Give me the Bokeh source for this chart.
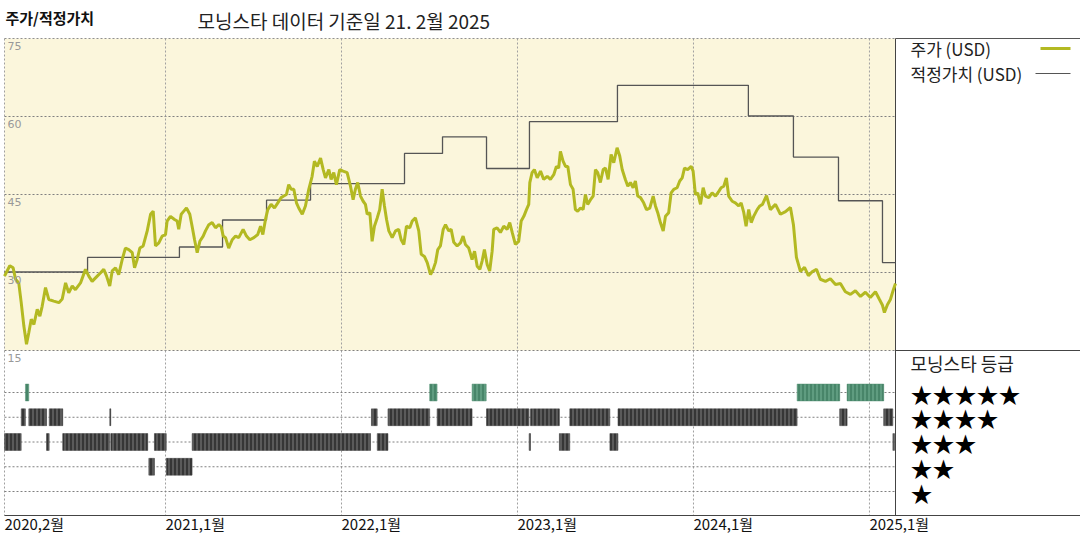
from bokeh.plotting import figure
from bokeh.models import Range1d
from bokeh.embed import file_html
from bokeh.resources import INLINE
from bokeh.core.properties import value

# ---------------- data (time as decimal year) ----------------
price_t = [2020.085, 2020.115, 2020.134, 2020.148, 2020.166, 2020.180, 2020.195, 2020.210, 2020.223, 2020.237,
           2020.252, 2020.271, 2020.286, 2020.299, 2020.318, 2020.337, 2020.365, 2020.394, 2020.413, 2020.432,
           2020.450, 2020.470, 2020.488, 2020.517, 2020.545, 2020.564, 2020.583, 2020.612, 2020.630, 2020.649,
           2020.665, 2020.683, 2020.697, 2020.716, 2020.734, 2020.754, 2020.772, 2020.791, 2020.811, 2020.824,
           2020.839, 2020.854, 2020.873, 2020.896, 2020.915, 2020.930, 2020.943, 2020.962, 2020.981, 2021.000,
           2021.009, 2021.028, 2021.051, 2021.066, 2021.075, 2021.089, 2021.104, 2021.119, 2021.138, 2021.151,
           2021.165, 2021.180, 2021.195, 2021.214, 2021.227, 2021.246, 2021.265, 2021.284, 2021.303, 2021.316,
           2021.328, 2021.341, 2021.359, 2021.379, 2021.398, 2021.416, 2021.441, 2021.460, 2021.479, 2021.502,
           2021.524, 2021.540, 2021.553, 2021.568, 2021.581, 2021.600, 2021.619, 2021.638, 2021.657, 2021.672,
           2021.687, 2021.700, 2021.714, 2021.729, 2021.744, 2021.757, 2021.777, 2021.795, 2021.814, 2021.833,
           2021.846, 2021.862, 2021.881, 2021.896, 2021.909, 2021.928, 2021.941, 2021.956, 2021.971, 2021.990,
           2022.009, 2022.032, 2022.051, 2022.066, 2022.079, 2022.092, 2022.108, 2022.123, 2022.136, 2022.146,
           2022.161, 2022.174, 2022.187, 2022.203, 2022.217, 2022.231, 2022.244, 2022.256, 2022.269, 2022.288,
           2022.307, 2022.325, 2022.339, 2022.354, 2022.369, 2022.388, 2022.402, 2022.420, 2022.439, 2022.453,
           2022.471, 2022.487, 2022.506, 2022.521, 2022.534, 2022.547, 2022.562, 2022.578, 2022.591, 2022.609,
           2022.623, 2022.638, 2022.657, 2022.676, 2022.691, 2022.704, 2022.723, 2022.742, 2022.756, 2022.771,
           2022.786, 2022.799, 2022.812, 2022.828, 2022.842, 2022.856, 2022.865, 2022.884, 2022.903, 2022.922,
           2022.941, 2022.956, 2022.970, 2022.988, 2023.007, 2023.021, 2023.036, 2023.051, 2023.064, 2023.070,
           2023.083, 2023.096, 2023.112, 2023.131, 2023.149, 2023.169, 2023.187, 2023.206, 2023.221, 2023.234,
           2023.244, 2023.259, 2023.273, 2023.286, 2023.301, 2023.316, 2023.329, 2023.342, 2023.358, 2023.373,
           2023.386, 2023.399, 2023.415, 2023.430, 2023.443, 2023.456, 2023.471, 2023.487, 2023.500, 2023.515,
           2023.532, 2023.547, 2023.566, 2023.581, 2023.595, 2023.613, 2023.627, 2023.642, 2023.657, 2023.670,
           2023.683, 2023.699, 2023.717, 2023.733, 2023.752, 2023.771, 2023.784, 2023.797, 2023.812, 2023.828,
           2023.841, 2023.859, 2023.873, 2023.888, 2023.907, 2023.922, 2023.936, 2023.949, 2023.967, 2023.987,
           2023.998, 2024.011, 2024.024, 2024.040, 2024.055, 2024.068, 2024.087, 2024.106, 2024.125, 2024.144,
           2024.157, 2024.172, 2024.187, 2024.200, 2024.220, 2024.238, 2024.257, 2024.271, 2024.286, 2024.299,
           2024.314, 2024.328, 2024.342, 2024.362, 2024.377, 2024.392, 2024.415, 2024.437, 2024.466, 2024.494,
           2024.523, 2024.551, 2024.568, 2024.585, 2024.608, 2024.631, 2024.653, 2024.676, 2024.699, 2024.721,
           2024.750, 2024.778, 2024.807, 2024.835, 2024.863, 2024.892, 2024.920, 2024.949, 2024.977, 2025.005,
           2025.034, 2025.057, 2025.074, 2025.085, 2025.102, 2025.119, 2025.136, 2025.148]
price_v = [29.3, 31.3, 30.9, 28.7, 28.0, 24.2, 19.7, 16.2, 18.4, 21.0,
           20.0, 22.9, 21.6, 23.5, 27.1, 24.8, 24.5, 24.2, 24.9, 28.0,
           26.1, 27.4, 26.7, 28.0, 30.6, 29.3, 28.3, 29.3, 29.9, 30.6,
           29.3, 27.4, 30.3, 30.9, 29.6, 32.5, 34.7, 34.4, 33.8, 30.9,
           32.5, 34.7, 35.1, 38.0, 41.2, 41.8, 35.1, 35.7, 37.0, 37.3,
           39.9, 40.8, 40.2, 39.9, 38.3, 41.2, 41.8, 42.4, 41.2, 38.9,
           36.3, 33.8, 36.0, 37.0, 38.0, 39.2, 39.6, 38.6, 39.2, 38.8,
           37.0, 36.7, 34.7, 36.3, 37.0, 36.7, 38.3, 37.0, 36.3, 36.7,
           37.3, 38.9, 37.3, 40.2, 42.1, 43.1, 42.4, 43.4, 44.4, 44.7,
           45.0, 46.9, 46.0, 46.0, 43.4, 42.4, 41.2, 42.8, 46.0, 48.5,
           51.4, 50.4, 52.0, 49.8, 48.2, 49.8, 47.9, 49.2, 46.9, 49.8,
           49.5, 49.2, 46.6, 44.0, 46.0, 47.3, 44.7, 43.7, 43.1, 41.2,
           41.5, 36.0, 38.9, 40.5, 42.1, 46.0, 42.8, 40.2, 38.0, 36.7,
           38.0, 38.3, 36.3, 35.4, 38.9, 38.6, 39.9, 40.5, 38.0, 33.5,
           33.1, 31.9, 29.6, 30.6, 31.9, 34.4, 35.1, 38.3, 39.2, 38.0,
           38.3, 35.8, 35.1, 35.7, 37.0, 35.4, 34.7, 32.5, 34.1, 31.2,
           30.6, 32.2, 34.4, 31.5, 30.3, 34.1, 38.3, 38.6, 37.7, 38.9,
           38.3, 39.6, 37.7, 35.4, 36.0, 39.9, 40.8, 42.1, 43.1, 47.3,
           49.2, 49.8, 48.2, 49.5, 47.9, 48.5, 47.9, 48.8, 50.4, 50.1,
           53.3, 51.4, 50.4, 50.4, 46.9, 46.0, 42.1, 41.8, 42.4, 42.1,
           45.0, 43.1, 44.0, 44.7, 49.8, 49.2, 47.3, 49.8, 50.1, 47.9,
           52.7, 51.1, 54.0, 52.4, 49.8, 47.9, 46.6, 47.3, 46.3, 47.6,
           44.7, 44.4, 43.4, 42.1, 42.4, 44.7, 42.8, 41.5, 39.6, 38.0,
           40.8, 41.5, 45.3, 46.0, 46.3, 47.6, 48.2, 50.1, 49.8, 50.4,
           49.5, 45.0, 45.3, 43.1, 46.3, 44.7, 44.4, 45.3, 44.7, 45.6,
           46.3, 46.6, 48.2, 44.7, 43.7, 43.4, 42.8, 43.4, 41.5, 38.9,
           42.1, 39.6, 40.8, 42.1, 42.8, 43.1, 44.8, 42.1, 43.1, 41.2,
           41.7, 42.5, 39.2, 32.9, 30.2, 31.0, 29.4, 30.2, 30.6, 28.7,
           28.3, 28.8, 27.7, 27.9, 26.3, 25.8, 26.5, 25.4, 26.2, 25.2,
           26.3, 24.8, 23.7, 22.3, 23.8, 24.8, 26.7, 27.9]

fair_t = [2020.085, 2020.557, 2021.079, 2021.324, 2021.574, 2021.824, 2022.358, 2022.574,
          2022.824, 2023.068, 2023.568, 2024.312, 2024.568, 2024.824, 2025.074, 2025.148]
fair_v = [30.1, 32.9, 34.9, 40.1, 43.9, 47.1, 52.9, 56.1,
          50.0, 59.0, 66.0, 60.1, 52.2, 43.8, 31.9, 31.9]

rating_start = [2020.085, 2020.180, 2020.204, 2020.223, 2020.324, 2020.339, 2020.416, 2020.683, 2020.689,
                2020.905, 2020.937, 2021.005, 2021.151, 2022.170, 2022.203, 2022.264, 2022.501, 2022.543,
                2022.742, 2022.824, 2023.066, 2023.074, 2023.238, 2023.297, 2023.525, 2023.571, 2024.589,
                2024.831, 2024.873, 2025.081, 2025.133]
rating_end = [2020.180, 2020.204, 2020.223, 2020.324, 2020.339, 2020.416, 2020.683, 2020.689, 2020.899,
              2020.937, 2021.004, 2021.151, 2022.165, 2022.203, 2022.264, 2022.501, 2022.543, 2022.742,
              2022.822, 2023.066, 2023.074, 2023.238, 2023.297, 2023.525, 2023.571, 2024.589, 2024.831,
              2024.873, 2025.081, 2025.133, 2025.142]
rating_value = [3, 4, 5, 4, 3, 4, 3, 4, 3,
                2, 3, 2, 3, 4, 3, 4, 5, 4,
                5, 4, 3, 4, 3, 4, 3, 4, 5,
                4, 5, 4, 3]

y_ticks = [75, 60, 45, 30, 15]
year_grid = [2021, 2022, 2023, 2024, 2025]
x_tick_pos = [2020.085, 2021, 2022, 2023, 2024, 2025]
x_tick_labels = ["2020,2월", "2021,1월", "2022,1월", "2023,1월", "2024,1월", "2025,1월"]
star_levels = [5, 4, 3, 2, 1]

T0, T1 = 2020.085, 2025.148   # visible time span of the chart

# ---------------- layout geometry ----------------
W, H = 1080, 540
PX_L, PX_R = 4, 895
PX_TOP, PX_BOT = 38, 350
PX_R5, PX_R1 = 392, 491
PX_BOTTOM_LINE = 515

xs = (T1 - T0) / (PX_R - PX_L)
x_range = Range1d(T0 - PX_L * xs, T0 + (W - PX_L) * xs)
ys = (75 - 15) / (PX_BOT - PX_TOP)
y_range = Range1d(15 - (H - PX_BOT) * ys, 75 + PX_TOP * ys)
rs = 4 / (PX_R1 - PX_R5)
r_range = Range1d(1 - (H - PX_R1) * rs, 5 + PX_R5 * rs)


def px_x(px):
    return x_range.start + px * xs


def px_y(py):
    return y_range.end - py * ys


FONT = value("Noto Sans CJK KR")
OLIVE = "#b3b922"

p = figure(width=W, height=H, x_range=x_range, y_range=y_range, min_border=0,
           toolbar_location=None, output_backend="svg", x_axis_location=None,
           y_axis_location=None, outline_line_color=None,
           background_fill_color="white", border_fill_color="white")
p.extra_y_ranges = {"rating": r_range}
p.grid.visible = False

# top panel background
p.quad(left=[T0], right=[T1], bottom=[15], top=[75], fill_color="#fbf6dc", line_color=None)

# horizontal grid (price panel)
p.segment(x0=[T0] * 4, x1=[T1] * 4, y0=y_ticks[1:], y1=y_ticks[1:],
          line_color="#808080", line_dash="2 2", line_width=1)
# top border: dotted over chart, solid over legend
p.segment(x0=[T0], x1=[T1], y0=[75], y1=[75], line_color="#909090", line_dash="2 2")
p.segment(x0=[T1], x1=[px_x(W)], y0=[75], y1=[75], line_color="#555555", line_width=1)

# vertical year grid lines and left border
vx = [T0] + year_grid
p.segment(x0=vx, x1=vx, y0=[75] * len(vx), y1=[px_y(PX_BOTTOM_LINE)] * len(vx),
          line_color="#a0a0a0", line_dash="2 2", line_width=1)

# rating row grid lines
p.segment(x0=[T0] * 5, x1=[T1] * 5, y0=star_levels, y1=star_levels, y_range_name="rating",
          line_color="#808080", line_dash="2 2", line_width=1)

# panel borders
p.segment(x0=[T1], x1=[T1], y0=[75], y1=[px_y(PX_BOTTOM_LINE)], line_color="#444444", line_width=1)
p.segment(x0=[T1], x1=[px_x(W)], y0=[15], y1=[15], line_color="#444444", line_width=1)
p.segment(x0=[T0], x1=[px_x(W)], y0=[px_y(PX_BOTTOM_LINE)], y1=[px_y(PX_BOTTOM_LINE)],
          line_color="#444444", line_width=1)

# fair value step line and price line
p.step(fair_t, fair_v, mode="after", line_color="#555555", line_width=1.3)
p.line(price_t, price_v, line_color=OLIVE, line_width=3)

# ratings
g_l = [s for s, r in zip(rating_start, rating_value) if r == 5]
g_r = [e for e, r in zip(rating_end, rating_value) if r == 5]
g_v = [r for r in rating_value if r == 5]
k_l = [s for s, r in zip(rating_start, rating_value) if r != 5]
k_r = [e for e, r in zip(rating_end, rating_value) if r != 5]
k_v = [r for r in rating_value if r != 5]
p.quad(left=g_l, right=g_r, bottom=[v - 0.34 for v in g_v], top=[v + 0.34 for v in g_v],
       y_range_name="rating", fill_color="#5f9c80", line_color="#4d8a6d", line_width=0.5,
       hatch_pattern="|", hatch_color="#2f6e52", hatch_scale=4, hatch_weight=1)
p.quad(left=k_l, right=k_r, bottom=[v - 0.34 for v in k_v], top=[v + 0.34 for v in k_v],
       y_range_name="rating", fill_color="#5a5a5a", line_color="#444444", line_width=0.5,
       hatch_pattern="|", hatch_color="#111111", hatch_scale=4, hatch_weight=1)

# y tick labels
p.text(x=[px_x(7)] * len(y_ticks), y=y_ticks, text=[str(v) for v in y_ticks],
       text_baseline="top", y_offset=3, text_color="#999999", text_font_size="11px",
       text_font=value("DejaVu Sans"))

# x tick labels
p.text(x=x_tick_pos, y=[px_y(523)] * len(x_tick_pos), text=x_tick_labels,
       text_baseline="middle", text_align="left", text_font_size="15px", text_font=FONT,
       text_color="#111111")

# titles
p.text(x=[px_x(5)], y=[px_y(17)], text=["주가/적정가치"], text_baseline="middle",
       text_font_size="15px", text_font_style="bold", text_font=FONT, text_color="#111111")
p.text(x=[px_x(197)], y=[px_y(20)], text=["모닝스타 데이터 기준일 21. 2월 2025"],
       text_baseline="middle", text_font_size="19px", text_font=FONT, text_color="#222222")

# legend (price panel)
p.text(x=[px_x(910), px_x(910)], y=[px_y(48), px_y(73)], text=["주가 (USD)", "적정가치 (USD)"],
       text_baseline="middle", text_font_size="17px", text_font=FONT, text_color="#222222")
p.segment(x0=[px_x(1040)], x1=[px_x(1070)], y0=[px_y(48)], y1=[px_y(48)],
          line_color=OLIVE, line_width=3)
p.segment(x0=[px_x(1035)], x1=[px_x(1070)], y0=[px_y(73)], y1=[px_y(73)],
          line_color="#555555", line_width=1)

# legend (rating panel)
p.text(x=[px_x(910)], y=[px_y(362)], text=["모닝스타 등급"], text_baseline="middle",
       text_font_size="18px", text_font=FONT, text_color="#222222")
p.text(x=[px_x(910)] * 5, y=star_levels, text=["★" * s for s in star_levels],
       y_range_name="rating", text_baseline="middle", text_font_size="22px",
       text_font=FONT, text_color="#000000")

open("out.html", "w").write(file_html(p, INLINE))
